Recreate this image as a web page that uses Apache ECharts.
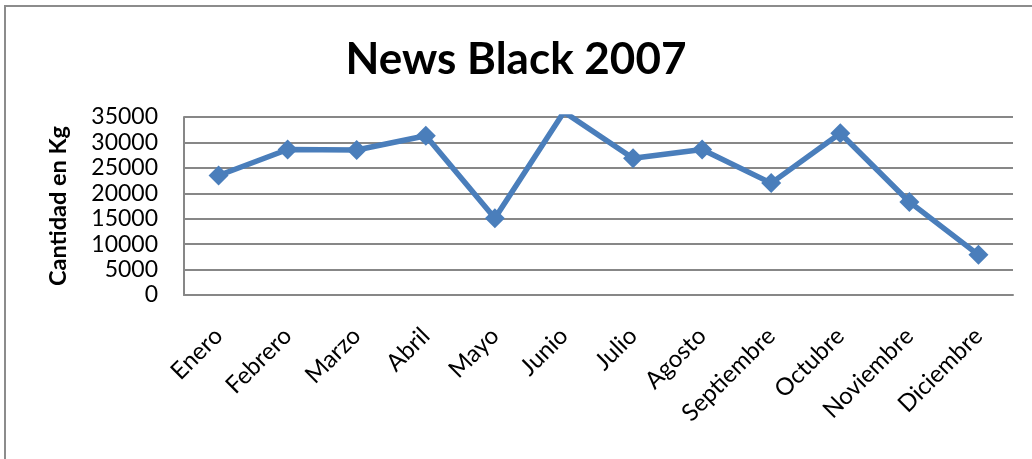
<!DOCTYPE html>
<html>
<head>
<meta charset="utf-8">
<script src="https://cdn.jsdelivr.net/npm/echarts@6/dist/echarts.min.js"></script>
<style>
  html, body { margin: 0; padding: 0; background: #ffffff; }
  #chart { width: 1032px; height: 459px; }
</style>
</head>
<body>
<div id="chart"></div>
<script>
// Monthly quantities (kg) for 2007
const months = ['Enero', 'Febrero', 'Marzo', 'Abril', 'Mayo', 'Junio', 'Julio',
                'Agosto', 'Septiembre', 'Octubre', 'Noviembre', 'Diciembre'];
const cantidad = [23500, 28600, 28500, 31300, 15100, 36000, 26900,
                  28600, 22000, 31800, 18300, 7900];
const yTicks = { min: 0, max: 35000, interval: 5000 };

const chart = echarts.init(document.getElementById('chart'), null, { renderer: 'canvas' });
const gray = '#878787';
const blue = '#4a7ebb';

chart.setOption({
  animation: false,
  backgroundColor: '#ffffff',
  title: {
    text: 'News Black 2007',
    left: 'center',
    top: 33,
    textStyle: { fontFamily: 'Lato', fontWeight: 'bold', fontSize: 44, color: '#000000' }
  },
  graphic: [{
    type: 'rect',
    shape: { x: 5, y: 6, width: 1200, height: 600 },
    style: { fill: 'none', stroke: '#8c8c8c', lineWidth: 2 },
    silent: true
  }],
  grid: { left: 184, right: 19, top: 117, bottom: 164, containLabel: false },
  xAxis: {
    type: 'category',
    data: months,
    boundaryGap: true,
    axisLine: { show: true, lineStyle: { color: gray, width: 2 } },
    axisTick: { show: false },
    axisLabel: {
      rotate: 45,
      margin: 37,
      fontFamily: 'Lato',
      fontSize: 24,
      color: '#000000'
    }
  },
  yAxis: {
    type: 'value',
    min: yTicks.min,
    max: yTicks.max,
    interval: yTicks.interval,
    name: 'Cantidad en Kg',
    nameLocation: 'middle',
    nameGap: 114,
    nameTextStyle: { fontFamily: 'Lato', fontWeight: 'bold', fontSize: 23.5, color: '#000000' },
    axisLine: { show: true, lineStyle: { color: gray, width: 2 } },
    axisTick: { show: false },
    splitLine: { show: true, lineStyle: { color: gray, width: 2 } },
    axisLabel: {
      margin: 26,
      fontFamily: 'Lato',
      fontSize: 23,
      color: '#000000',
      formatter: (v) => String(v)
    }
  },
  series: [{
    type: 'line',
    data: cantidad,
    clip: true,
    symbol: 'diamond',
    symbolSize: 20,
    lineStyle: { color: blue, width: 5.5 },
    itemStyle: { color: blue },
    z: 3
  }]
});
</script>
</body>
</html>
